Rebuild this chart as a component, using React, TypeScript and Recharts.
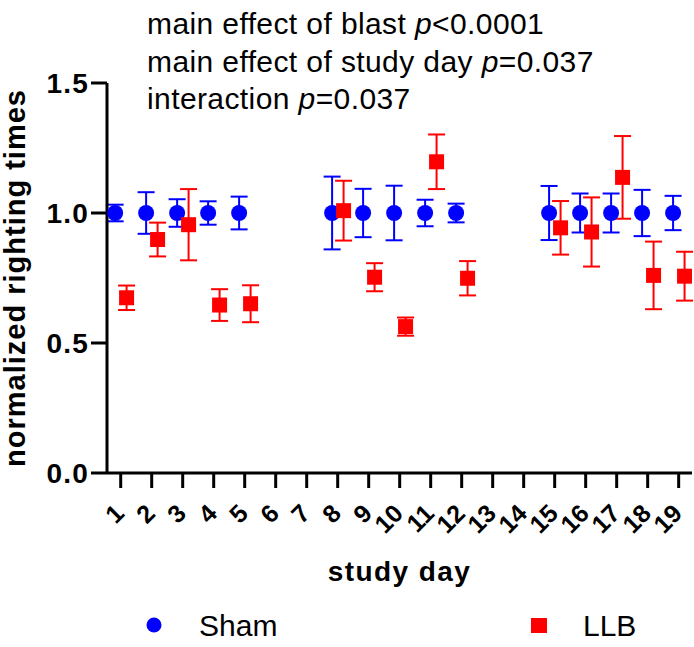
import { ScatterChart, Scatter, XAxis, YAxis, ErrorBar, Label } from 'recharts'

// study days that were measured
const days = [1, 2, 3, 4, 5, 8, 9, 10, 11, 12, 15, 16, 17, 18, 19]
const dayTicks = [1, 2, 3, 4, 5, 6, 7, 8, 9, 10, 11, 12, 13, 14, 15, 16, 17, 18, 19]
const yTicks = [0, 0.5, 1.0, 1.5]

const shamMean = [1, 1, 1, 1, 1, 1, 1, 1, 1, 1, 1, 1, 1, 1, 1]
const shamErr = [0.032, 0.08, 0.053, 0.045, 0.063, 0.14, 0.093, 0.105, 0.051, 0.036, 0.104, 0.075, 0.075, 0.089, 0.066]
const llbMean = [0.674, 0.898, 0.955, 0.646, 0.651, 1.009, 0.753, 0.563, 1.197, 0.749, 0.943, 0.927, 1.137, 0.76, 0.757]
const llbErr = [0.047, 0.065, 0.137, 0.061, 0.071, 0.115, 0.054, 0.035, 0.105, 0.066, 0.103, 0.133, 0.159, 0.13, 0.094]

const annotations = [
  ['main effect of blast ', 'p', '<0.0001'],
  ['main effect of study day ', 'p', '=0.037'],
  ['interaction ', 'p', '=0.037'],
]

const BLUE = '#0000FF'
const RED = '#FF0000'
const FONT = '"Liberation Sans", Arial, Helvetica, sans-serif'

// small dodge so the two groups sit either side of the tick
const shamData = days.map((d, i) => ({ x: d - 0.18, y: shamMean[i], err: shamErr[i] }))
const llbData = days.map((d, i) => ({ x: d + 0.19, y: llbMean[i], err: llbErr[i] }))

const XTick = ({ x, y, payload }: any) => (
  <text
    x={x + 5}
    y={y + 25}
    transform={`rotate(-45, ${x + 5}, ${y + 25})`}
    textAnchor="end"
    fontFamily={FONT}
    fontWeight={700}
    fontSize={25}
    fill="#000"
  >
    {payload.value}
  </text>
)

const YTick = ({ x, y, payload }: any) => (
  <text
    x={x}
    y={y}
    dy={10}
    textAnchor="end"
    fontFamily={FONT}
    fontWeight={700}
    fontSize={28}
    letterSpacing={1.2}
    fill="#000"
  >
    {Number(payload.value).toFixed(1)}
  </text>
)

const Circle = ({ cx, cy }: any) => <circle cx={cx} cy={cy} r={8} fill={BLUE} />
const Square = ({ cx, cy }: any) => <rect x={cx - 7.5} y={cy - 7.5} width={15} height={15} fill={RED} />

export default function App() {
  return (
    <div style={{ position: 'relative', width: 694, height: 647, background: '#fff' }}>
      <style>{'body{margin:0}'}</style>
      <ScatterChart
        width={694}
        height={647}
        margin={{ top: 83, right: 2, bottom: 114, left: 0 }}
      >
        <XAxis
          type="number"
          dataKey="x"
          domain={[0.558, 19.43]}
          ticks={dayTicks}
          allowDataOverflow
          interval={0}
          height={60}
          axisLine={{ stroke: '#000', strokeWidth: 3 }}
          tickLine={{ stroke: '#000', strokeWidth: 3 }}
          tickSize={15}
          tick={<XTick />}
        >
          <Label
            content={({ viewBox }: any) => (
              <text
                x={viewBox.x + viewBox.width / 2}
                y={581}
                textAnchor="middle"
                fontFamily={FONT}
                fontWeight={700}
                fontSize={28}
                letterSpacing={1.4}
                fill="#000"
              >
                study day
              </text>
            )}
          />
        </XAxis>
        <YAxis
          type="number"
          dataKey="y"
          domain={[0, 1.5]}
          ticks={yTicks}
          allowDataOverflow
          width={107}
          axisLine={{ stroke: '#000', strokeWidth: 3 }}
          tickLine={{ stroke: '#000', strokeWidth: 3 }}
          tickSize={16}
          tick={<YTick />}
        >
          <Label
            content={() => (
              <text
                x={25}
                y={278}
                transform="rotate(-90, 25, 278)"
                textAnchor="middle"
                fontFamily={FONT}
                fontWeight={700}
                fontSize={29}
                letterSpacing={1}
                fill="#000"
              >
                normalized righting times
              </text>
            )}
          />
        </YAxis>
        <Scatter name="Sham" data={shamData} shape={<Circle />} isAnimationActive={false}>
          <ErrorBar dataKey="err" direction="y" width={8.5} stroke={BLUE} strokeWidth={2} isAnimationActive={false} />
        </Scatter>
        <Scatter name="LLB" data={llbData} shape={<Square />} isAnimationActive={false}>
          <ErrorBar dataKey="err" direction="y" width={8.5} stroke={RED} strokeWidth={2} isAnimationActive={false} />
        </Scatter>
      </ScatterChart>

      {/* stats text + legend */}
      <svg
        width={694}
        height={647}
        style={{ position: 'absolute', left: 0, top: 0, pointerEvents: 'none' }}
      >
        {annotations.map((a, i) => (
          <text
            key={i}
            x={147}
            y={34 + i * 37.5}
            fontFamily={FONT}
            fontSize={30}
            letterSpacing={0.4}
            fill="#000"
          >
            {a[0]}
            <tspan fontStyle="italic">{a[1]}</tspan>
            {a[2]}
          </text>
        ))}
        <circle cx={154} cy={625} r={7.5} fill={BLUE} />
        <text x={199} y={636} fontFamily={FONT} fontSize={30} fill="#000">Sham</text>
        <rect x={531} y={618} width={16} height={15} fill={RED} />
        <text x={583} y={636} fontFamily={FONT} fontSize={30} fill="#000">LLB</text>
      </svg>
    </div>
  )
}
